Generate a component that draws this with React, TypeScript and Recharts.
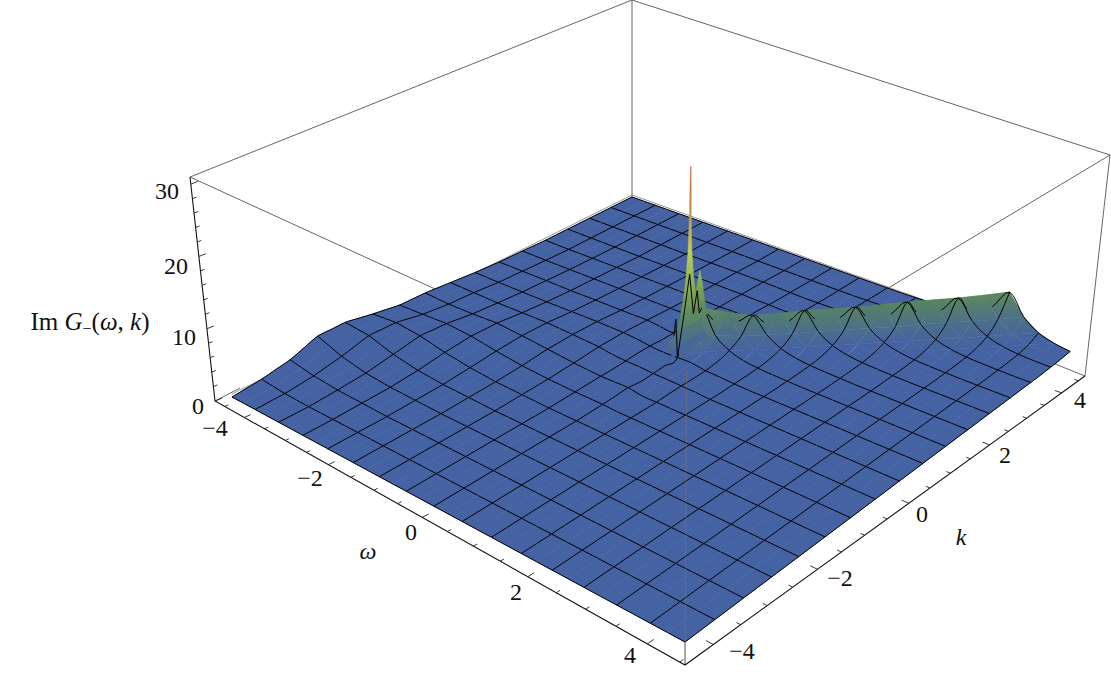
import React from "react"
import { ScatterChart, Scatter, XAxis, YAxis, ReferenceDot } from "recharts"

// Im G(w,k). Grid is half a mesh cell: 33 nodes per side, w = i, k = j
const CELLS = 32
const FONT = "'Liberation Serif', serif"

// ridge along w = k - 1.25, band n is n half-cells off the crest, columns follow the crest from w = 0 to w = 5
const ridgeBands = [
  [5.3, 4.5, 3.9, 4.0, 4.2, 4.25, 4.3, 4.45, 4.65, 4.75, 4.85, 5.05, 5.3, 5.4, 5.5, 5.6, 5.7],
  [2.7, 2.3, 2.0, 2.0, 2.1, 2.1, 2.15, 2.2, 2.3, 2.4, 2.4, 2.5, 2.65, 2.7, 2.75, 2.8, 2.85],
  [1.2, 1.0, 0.9, 0.9, 0.9, 0.95, 0.95, 1.0, 1.0, 1.05, 1.05, 1.1, 1.15, 1.2, 1.2, 1.25, 1.25],
  [0.55, 0.45, 0.4, 0.4, 0.42, 0.42, 0.43, 0.45, 0.46, 0.47, 0.48, 0.5, 0.52, 0.54, 0.55, 0.55, 0.56],
  [0.25, 0.2, 0.18, 0.18, 0.18, 0.18, 0.18, 0.19, 0.2, 0.2, 0.2, 0.2, 0.22, 0.22, 0.22, 0.23, 0.23],
  [0.12, 0.1, 0.09, 0.09, 0.09, 0.09, 0.09, 0.09, 0.1, 0.1, 0.1, 0.1, 0.1, 0.1, 0.1, 0.11, 0.11],
  [0.06, 0.05, 0.04, 0.04, 0.04, 0.04, 0.04, 0.04, 0.05, 0.05, 0.05, 0.05, 0.05, 0.05, 0.05, 0.05, 0.05],
]

// the foot of the spike, i = 13..19, j = 15..24
const spikeRows = [
  [0.3, 0.4, 0.5, 0.6, 0.5, 0.4, 0.4, 0.4, 0.3, 0.2],
  [0.2, 0.3, 0.4, 0.4, 0.3, 0.3, 0.4, 0.4, 0.3, 0.2],
  [0.2, 0.3, 0.3, 0.3, 0.5, 1.5, 1.0, 0.7, 0.4, 0.3],
  [0.1, 0.2, 0.3, 0.4, 6.0, 5.3, 2.7, 1.2, 0.55, 0.25],
  [0.2, 0.2, 0.25, 0.45, 1.0, 2.3, 4.5, 2.3, 1.0, 0.45],
  [0.1, 0.15, 0.15, 0.2, 0.45, 1.0, 2.0, 3.9, 2.0, 0.9],
  [0.1, 0.1, 0.1, 0.15, 0.2, 0.4, 0.9, 2.0, 4.0, 2.0],
]

// broad low hump for w < 0, on the mesh nodes (rows w, columns k)
const humpRows = [
  [0, 0.4, 1.1, 2.4, 2.4, 1.7, 1.1, 1.0, 0.7, 0.4, 0.2, 0.1, 0, 0, 0, 0, 0],
  [0, 0.1, 0.5, 1.2, 2.1, 2.0, 1.3, 0.9, 0.7, 0.4, 0.25, 0.1, 0, 0, 0, 0, 0],
  [0, 0, 0.2, 0.5, 1.1, 1.7, 1.5, 1.0, 0.7, 0.45, 0.3, 0.15, 0.05, 0, 0, 0, 0],
  [0, 0, 0.1, 0.2, 0.5, 1.0, 1.3, 1.2, 0.8, 0.5, 0.3, 0.2, 0.1, 0, 0, 0, 0],
  [0, 0, 0, 0.1, 0.2, 0.5, 0.8, 1.0, 0.9, 0.6, 0.4, 0.25, 0.15, 0.05, 0, 0, 0],
  [0, 0, 0, 0, 0.1, 0.2, 0.4, 0.7, 0.8, 0.7, 0.45, 0.3, 0.2, 0.1, 0.05, 0, 0],
  [0, 0, 0, 0, 0, 0.1, 0.2, 0.4, 0.65, 0.7, 0.55, 0.35, 0.2, 0.15, 0.1, 0, 0],
  [0, 0, 0, 0, 0, 0, 0.1, 0.2, 0.4, 0.75, 0.6, 0.35, 0.25, 0.15, 0.1, 0, 0],
  [0, 0, 0, 0, 0, 0, 0.1, 0.3, 0.5, 0.6, 0.5, 0.3, 0.2, 0.1, 0.05, 0, 0],
]

// two needles finer than the grid: height, half width in grid steps
const needleMainJ = 18.95
const needleMainHeights = [0.8, 2, 4, 6, 8, 11, 14, 17, 20, 23, 26]
const needleMainWidths = [1.5, 1.3, 1.0, 0.72, 0.5, 0.3, 0.17, 0.11, 0.07, 0.05, 0.02]
const needleSideJ = 19.8
const needleSideHeights = [4, 6, 8, 9.5, 10.7]
const needleSideWidths = [0.7, 0.45, 0.3, 0.15, 0.02]

// mesh lines as they wriggle through the spike
const traceJ = [18, 18.5, 18.95, 19.3, 19.6, 19.8, 20]
const traceHeights = [0.4, 5.8, 11, 5.2, 8.1, 4.8, 5.3]
const traceLeftI = [15, 15, 16]
const traceLeftJ = [18.85, 19, 18]
const traceLeftHeights = [1.7, 3.9, 0.4]

const axisTicksOmega = [-4.5, -4, -3.5, -3, -2.5, -2, -1.5, -1, -0.5, 0, 0.5, 1, 1.5, 2, 2.5, 3, 3.5, 4, 4.5]
const axisTicksZ = [0, 2, 4, 6, 8, 10, 12, 14, 16, 18, 20, 22, 24, 26, 28, 30]

const omegaLabels = [
  { text: "−4", x: 215, y: 428 },
  { text: "−2", x: 310, y: 478 },
  { text: "0", x: 411, y: 532 },
  { text: "2", x: 516, y: 592 },
  { text: "4", x: 630, y: 655 },
]
const kLabels = [
  { text: "−4", x: 742, y: 651 },
  { text: "−2", x: 840, y: 578 },
  { text: "0", x: 922, y: 514 },
  { text: "2", x: 1005, y: 455 },
  { text: "4", x: 1080, y: 400 },
]
const zLabels = [
  { text: "0", x: 198, y: 406 },
  { text: "10", x: 184, y: 337 },
  { text: "20", x: 176, y: 266 },
  { text: "30", x: 167, y: 191 },
]

const colorStops: [number, number[]][] = [
  [1, [69, 98, 162]],
  [3, [78, 115, 130]],
  [5, [88, 135, 92]],
  [9, [130, 170, 85]],
  [14, [190, 205, 90]],
  [19, [200, 150, 80]],
  [26, [190, 105, 60]],
]

type P = { x: number | null; y: number | null }

function homography(c: number[][]) {
  const [p0, p1, p2, p3] = c
  const dx1 = p1[0] - p2[0], dx2 = p3[0] - p2[0], sx = p0[0] - p1[0] + p2[0] - p3[0]
  const dy1 = p1[1] - p2[1], dy2 = p3[1] - p2[1], sy = p0[1] - p1[1] + p2[1] - p3[1]
  const det = dx1 * dy2 - dx2 * dy1
  const g = (sx * dy2 - dx2 * sy) / det
  const h = (dx1 * sy - sx * dy1) / det
  const a = p1[0] - p0[0] + g * p1[0], b = p3[0] - p0[0] + h * p3[0]
  const d = p1[1] - p0[1] + g * p1[1], e = p3[1] - p0[1] + h * p3[1]
  return (u: number, v: number) => {
    const w = g * u + h * v + 1
    return { x: (a * u + b * v + p0[0]) / w, y: (d * u + e * v + p0[1]) / w }
  }
}

const surfaceBase = homography([[232, 397], [685, 642], [1070, 353], [632, 197]])
const floor = homography([[215, 401], [685, 665], [1085, 376], [632, 220]])

const inSpike = (i: number, j: number) => i >= 13 && i <= 19 && j >= 15 && j <= 24

function ridgeAt(i: number, j: number) {
  if (inSpike(i, j)) return spikeRows[i - 13][j - 15]
  const n = Math.abs(i - j + 4)
  const p = Math.floor((i + j - 4) / 2)
  if (n < ridgeBands.length && p >= 16) return ridgeBands[n][Math.min(p - 16, 16)]
  return 0
}

function humpAt(i: number, j: number) {
  if (i > 16 || inSpike(i, j)) return 0
  const r0 = Math.floor(i / 2), r1 = Math.ceil(i / 2), c0 = Math.floor(j / 2), c1 = Math.ceil(j / 2)
  return (humpRows[r0][c0] + humpRows[r0][c1] + humpRows[r1][c0] + humpRows[r1][c1]) / 4
}

function at(i: number, j: number, h: number): P {
  const b = surfaceBase(i / CELLS, j / CELLS)
  const lift = h * 7.2
  return { x: b.x + (lift * (b.x - 646)) / (4262 - b.y), y: b.y - lift }
}
const clampNode = (n: number) => Math.max(0, Math.min(CELLS, n))
const total = (i: number, j: number) => ridgeAt(clampNode(i), clampNode(j)) + humpAt(clampNode(i), clampNode(j))
const project = (i: number, j: number) => at(clampNode(i), clampNode(j), total(i, j))

// rounds a mesh segment through its neighbouring nodes, flat stretches stay two points
function rounded(n0: [number, number], n1: [number, number], n2: [number, number], n3: [number, number]): P[] {
  const h = [n0, n1, n2, n3].map((n) => total(n[0], n[1]))
  const p = [n0, n1, n2, n3].map((n) => project(n[0], n[1])) as { x: number; y: number }[]
  if (Math.max(...h) - Math.min(...h) < 0.01) return [p[1], p[2]]
  const out: P[] = []
  for (let s = 0; s <= 4; s++) {
    const t = s / 4
    const cr = (a: number, b: number, c: number, d: number) =>
      0.5 * (2 * b + (c - a) * t + (2 * a - 5 * b + 4 * c - d) * t * t + (3 * b - a - 3 * c + d) * t * t * t)
    out.push({ x: cr(p[0].x, p[1].x, p[2].x, p[3].x), y: cr(p[0].y, p[1].y, p[2].y, p[3].y) })
  }
  return out
}
const alongK = (i: number, j: number) => rounded([i, j + 2], [i, j + 1], [i, j], [i, j - 1])
const alongW = (i: number, j: number) => rounded([i - 1, j], [i, j], [i + 1, j], [i + 2, j])

const bucket = (h: number) => (h <= 1 ? 0 : Math.ceil((h - 1) / 0.5))
function bucketColor(b: number) {
  const h = 1 + b * 0.5
  for (let n = 1; n < colorStops.length; n++) {
    if (h <= colorStops[n][0]) {
      const [h0, c0] = colorStops[n - 1], [h1, c1] = colorStops[n]
      const t = (h - h0) / (h1 - h0)
      return `rgb(${c0.map((v, m) => Math.round(v + (c1[m] - v) * t)).join(",")})`
    }
  }
  return "rgb(190,105,60)"
}

type Layer = { points: P[]; fill: string; stroke: string; width: number }
const layers: Layer[] = []
const gradients = new Map<string, [number, number]>()
const GAP: P = { x: null, y: null }
const BLUE = bucketColor(0)
const MESH = "#000"

function pushMesh(segs: P[][]) {
  if (!segs.length) return
  const points: P[] = []
  segs.forEach((s) => points.push(...s, GAP))
  layers.push({ points, fill: "none", stroke: MESH, width: 1 })
}

function cellMesh(i: number, c: number) {
  const segs: P[][] = []
  if ((c + 1) % 2 === 0) segs.push(alongW(i, c + 1))
  if (c === 0) segs.push(alongW(i, 0))
  if (i % 2 === 0) segs.push(alongK(i, c))
  if (i === CELLS - 1) segs.push(alongK(i + 1, c))
  return segs
}

function pushShaded(points: P[], a: number, b: number) {
  const lo = bucket(Math.min(a, b)), hi = bucket(Math.max(a, b))
  const id = `grad${lo}_${hi}`
  if (lo !== hi) gradients.set(id, [lo, hi])
  const fill = lo === hi ? bucketColor(lo) : `url(#${id})`
  layers.push({ points: [...points, points[0]], fill, stroke: fill, width: 0.5 })
}

// painted far to near: w rising, k falling
for (let i = 0; i < CELLS; i++) {
  let runTop = -1
  let runSegs: P[][] = []
  const flush = (low: number) => {
    if (runTop < 0) return
    const far: P[] = []
    const near: P[] = []
    for (let j = runTop - 1; j >= low; j--) {
      far.push(...alongK(i, j))
      near.push(...alongK(i + 1, j))
    }
    const pts = [...far, ...near.reverse()]
    pts.push(pts[0])
    layers.push({ points: pts, fill: BLUE, stroke: BLUE, width: 0.6 })
    pushMesh(runSegs)
    runTop = -1
    runSegs = []
  }
  for (let c = CELLS - 1; c >= 0; c--) {
    const h00 = ridgeAt(i, c), h01 = ridgeAt(i, c + 1), h10 = ridgeAt(i + 1, c), h11 = ridgeAt(i + 1, c + 1)
    if (bucket(Math.max(h00, h01, h10, h11)) === 0) {
      if (runTop < 0) runTop = c + 1
      runSegs.push(...cellMesh(i, c))
      continue
    }
    flush(c + 1)
    // split along the ridge so the crest stays the outline
    const p00 = project(i, c), p01 = project(i, c + 1), p10 = project(i + 1, c), p11 = project(i + 1, c + 1)
    pushShaded([p00, p01, p11], Math.min(h00, h01, h11), Math.max(h00, h01, h11))
    pushShaded([p00, p10, p11], Math.min(h00, h10, h11), Math.max(h00, h10, h11))
    pushMesh(cellMesh(i, c))
  }
  flush(0)
}

function pushNeedle(j: number, heights: number[], widths: number[]) {
  for (let n = 0; n < heights.length - 1; n++) {
    const h0 = heights[n], h1 = heights[n + 1]
    pushShaded(
      [at(16, j - widths[n], h0), at(16, j + widths[n], h0), at(16, j + widths[n + 1], h1), at(16, j - widths[n + 1], h1)],
      h0,
      h1
    )
  }
}
pushNeedle(needleSideJ, needleSideHeights, needleSideWidths)
pushNeedle(needleMainJ, needleMainHeights, needleMainWidths)
layers.push({ points: traceJ.map((j, n) => at(16, j, traceHeights[n])), fill: "none", stroke: MESH, width: 1 })
layers.push({ points: traceLeftJ.map((j, n) => at(traceLeftI[n], j, traceLeftHeights[n])), fill: "none", stroke: MESH, width: 1 })

// frame
function segLine(segs: number[][][]) {
  const pts: P[] = []
  segs.forEach((s) => {
    s.forEach((q) => pts.push({ x: q[0], y: q[1] }))
    pts.push(GAP)
  })
  return pts
}
const frameGrey = segLine([
  [[190, 177], [632, 0], [1110, 155], [1085, 376]],
  [[632, 0], [632, 197]],
  [[190, 177], [470, 305]],
  [[1110, 155], [860, 305]],
  [[215, 401], [240, 388]],
  [[1085, 376], [1040, 358]],
])
const frameBackEdge = segLine([[[232, 394], [632, 195], [1066, 351]]])
const frameBlack = segLine([
  [[190, 177], [215, 401], [685, 665], [1085, 376]],
])
const frontPost = segLine([[[685, 642], [685, 665]]])

const tickSegs: P[] = []
axisTicksOmega.forEach((w) => {
  const u = (w + 4.75) / 9.33
  const v = (w + 4.5) / 9.2
  const big = w % 2 === 0 ? 0.012 : 0.007
  tickSegs.push(floor(u, 0), floor(u, big), GAP)
  if (v > 0) tickSegs.push(floor(1, v), floor(1 - big, v), GAP)
})
axisTicksZ.forEach((z) => {
  const t = z / 31
  const x = 215 - 25 * t, y = 401 - 224 * t
  const len = z % 10 === 0 ? 7 : 4
  tickSegs.push({ x, y }, { x: x + len, y: y - len * 0.4 }, GAP)
})

const seam = segLine([[[686.5, 370], [685, 665]]])

const NoDot = () => null

function line(key: string, points: P[], stroke: string, width: number, fill = "none") {
  return (
    <Scatter
      key={key}
      data={points as any}
      fill="none"
      line={{ stroke, strokeWidth: width, fill }}
      lineType="joint"
      lineJointType="linear"
      shape={NoDot}
      legendType="none"
      isAnimationActive={false}
    />
  )
}

function textDot(key: string, x: number, y: number, text: string, italic = false) {
  return (
    <ReferenceDot
      key={key}
      x={x}
      y={y}
      r={0}
      fill="none"
      stroke="none"
      label={(p: any) => (
        <text
          x={p.viewBox.x}
          y={p.viewBox.y}
          textAnchor="middle"
          fontFamily={FONT}
          fontSize={24}
          fontStyle={italic ? "italic" : "normal"}
          fill="#111"
        >
          {text}
        </text>
      )}
    />
  )
}

export default function App() {
  return (
    <div style={{ position: "absolute", left: 0, top: 0, width: 1111, height: 677, background: "#fff" }}>
      <ScatterChart width={1111} height={677} margin={{ top: 0, right: 0, bottom: 0, left: 0 }}>
        <defs>
          {[...gradients.entries()].map(([id, [lo, hi]]) => (
            <linearGradient key={id} id={id} x1="0" y1="0" x2="0" y2="1">
              <stop offset="0%" stopColor={bucketColor(hi)} />
              <stop offset="100%" stopColor={bucketColor(lo)} />
            </linearGradient>
          ))}
        </defs>
        <XAxis type="number" dataKey="x" domain={[0, 1111]} hide allowDataOverflow />
        <YAxis type="number" dataKey="y" domain={[0, 677]} reversed hide allowDataOverflow />
        {line("frameGrey", frameGrey, "#666", 1)}
        {line("frameBack", frameBackEdge, "#777", 0.8)}
        {layers.map((l, n) => line(`s${n}`, l.points, l.stroke, l.width, l.fill))}
        {line("seam", seam, "rgba(170,125,90,0.35)", 1)}
        {line("post", frontPost, "#666", 1)}
        {line("frameBlack", frameBlack, "#111", 1.1)}
        {line("ticks", tickSegs, "#222", 0.9)}
        {omegaLabels.map((l) => textDot(`w${l.text}`, l.x, l.y + 8, l.text))}
        {kLabels.map((l) => textDot(`k${l.text}`, l.x, l.y + 8, l.text))}
        {zLabels.map((l) => textDot(`z${l.text}`, l.x, l.y + 8, l.text))}
        {textDot("omega", 368, 559, "ω", true)}
        {textDot("kname", 961, 545, "k", true)}
        <ReferenceDot
          x={90}
          y={330}
          r={0}
          fill="none"
          stroke="none"
          label={(p: any) => (
            <text x={p.viewBox.x} y={p.viewBox.y} textAnchor="middle" fontFamily={FONT} fontSize={25} fill="#111">
              Im <tspan fontStyle="italic">G</tspan>
              <tspan fontSize={16} dy={4}>−</tspan>
              <tspan dy={-4}>(</tspan>
              <tspan fontStyle="italic">ω</tspan>,<tspan> </tspan>
              <tspan fontStyle="italic">k</tspan>)
            </text>
          )}
        />
      </ScatterChart>
    </div>
  )
}
